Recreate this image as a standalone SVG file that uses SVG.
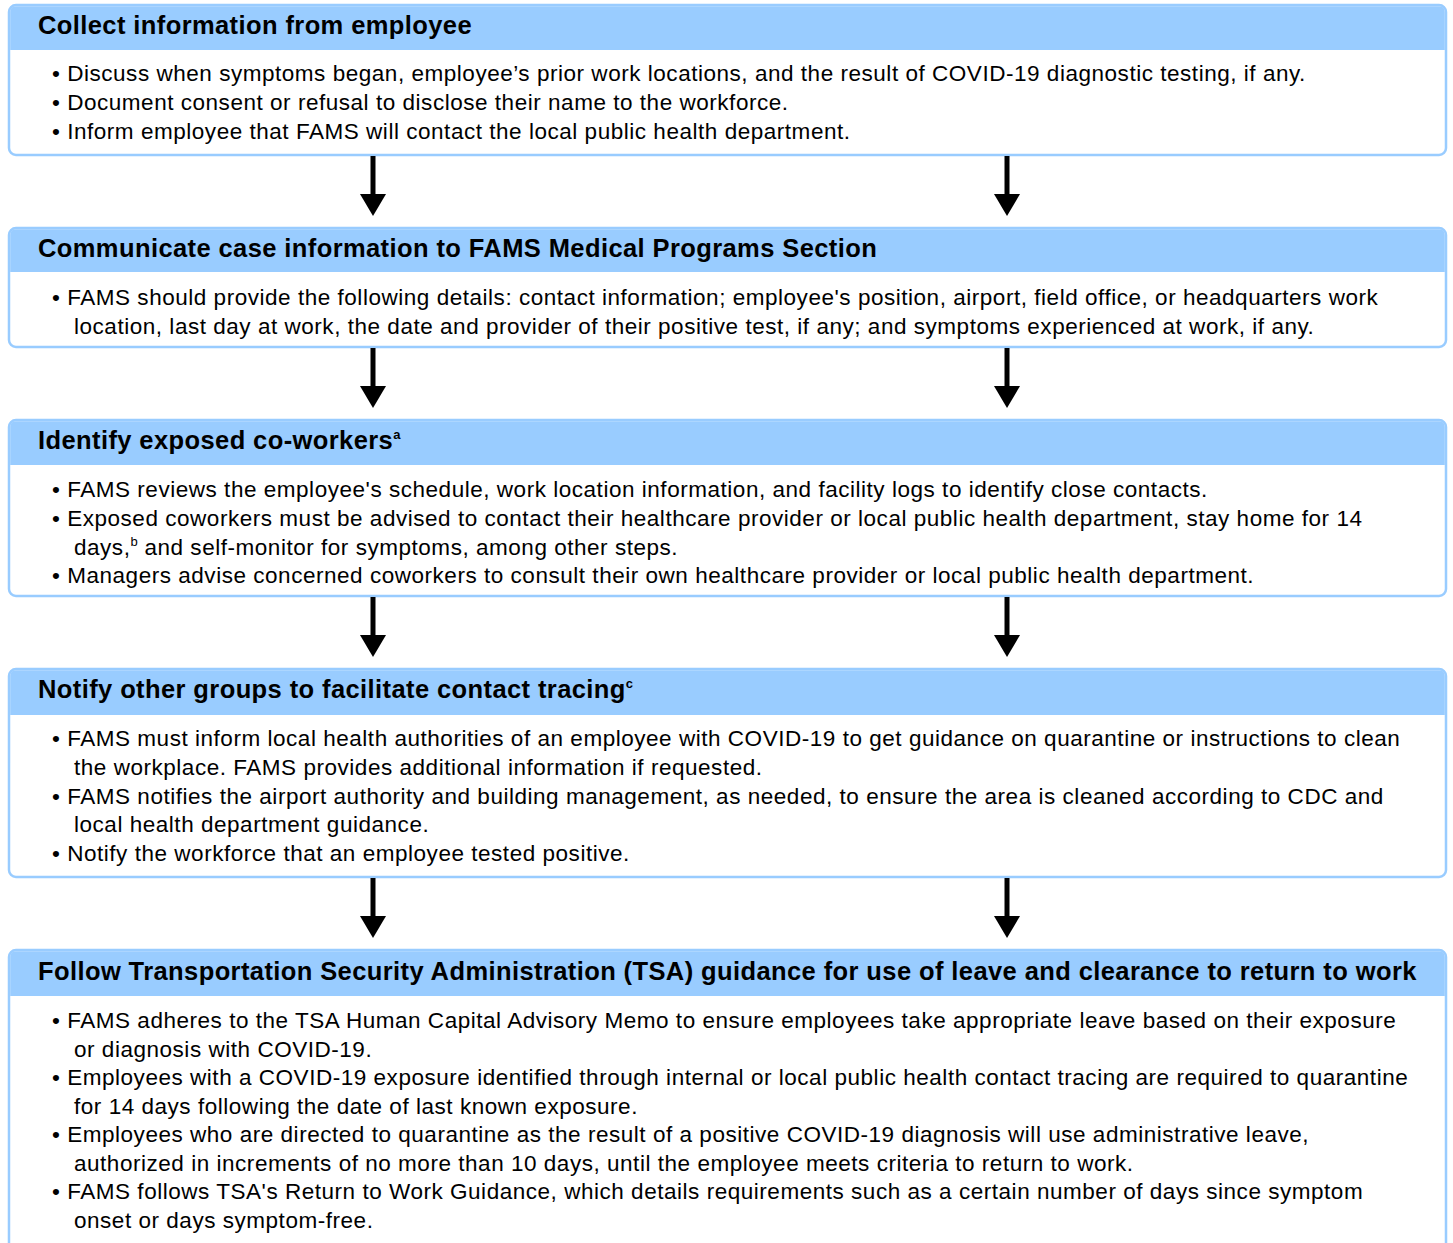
<svg xmlns="http://www.w3.org/2000/svg" width="1453" height="1243" viewBox="0 0 1453 1243">
<style>
.box{fill:#fff;stroke:#99ccff;stroke-width:2.5}
.hdr{fill:#99ccff}
.h{font-family:"Liberation Sans",Arial,sans-serif;font-weight:bold;font-size:25.5px;letter-spacing:0.4px;fill:#000}
.t{font-family:"Liberation Sans",Arial,sans-serif;font-size:22.5px;letter-spacing:0.53px;fill:#000}
.sup{font-size:13px;letter-spacing:0}
.arr{stroke:#000;stroke-width:5;fill:none}
</style>
<defs>
<marker id="ah" viewBox="0 -13 22 26" markerWidth="22" markerHeight="26" refX="0" refY="0" orient="auto" markerUnits="userSpaceOnUse">
<path d="M0,-13 L22,0 L0,13 Z" fill="#000"/>
</marker>
</defs>
<g id="node1">
<rect class="box" x="9" y="5" width="1437" height="150" rx="7"/>
<path class="hdr" d="M16,6.2 H1439 Q1444.8,6.2 1444.8,12 V50 H10.2 V12 Q10.2,6.2 16,6.2 Z"/>
<text class="h" x="38" y="34">Collect information from employee</text>
<text class="t" x="52" y="81">• Discuss when symptoms began, employee’s prior work locations, and the result of COVID-19 diagnostic testing, if any.</text>
<text class="t" x="52" y="110">• Document consent or refusal to disclose their name to the workforce.</text>
<text class="t" x="52" y="139">• Inform employee that FAMS will contact the local public health department.</text>
</g>
<g id="node2">
<rect class="box" x="9" y="228" width="1437" height="119" rx="7"/>
<path class="hdr" d="M16,229.2 H1439 Q1444.8,229.2 1444.8,235 V272 H10.2 V235 Q10.2,229.2 16,229.2 Z"/>
<text class="h" x="38" y="257">Communicate case information to FAMS Medical Programs Section</text>
<text class="t" x="52" y="305">• FAMS should provide the following details: contact information; employee's position, airport, field office, or headquarters work</text>
<text class="t" x="74" y="334">location, last day at work, the date and provider of their positive test, if any; and symptoms experienced at work, if any.</text>
</g>
<g id="node3">
<rect class="box" x="9" y="420" width="1437" height="176" rx="7"/>
<path class="hdr" d="M16,421.2 H1439 Q1444.8,421.2 1444.8,427 V465 H10.2 V427 Q10.2,421.2 16,421.2 Z"/>
<text class="h" x="38" y="449">Identify exposed co-workers<tspan class="sup" dy="-10">a</tspan></text>
<text class="t" x="52" y="497">• FAMS reviews the employee's schedule, work location information, and facility logs to identify close contacts.</text>
<text class="t" x="52" y="526">• Exposed coworkers must be advised to contact their healthcare provider or local public health department, stay home for 14</text>
<text class="t" x="74" y="555">days,<tspan class="sup" dy="-9">b</tspan><tspan dy="9"> and self-monitor for symptoms, among other steps.</tspan></text>
<text class="t" x="52" y="583">• Managers advise concerned coworkers to consult their own healthcare provider or local public health department.</text>
</g>
<g id="node4">
<rect class="box" x="9" y="669" width="1437" height="208" rx="7"/>
<path class="hdr" d="M16,670.2 H1439 Q1444.8,670.2 1444.8,676 V715 H10.2 V676 Q10.2,670.2 16,670.2 Z"/>
<text class="h" x="38" y="698">Notify other groups to facilitate contact tracing<tspan class="sup" dy="-10">c</tspan></text>
<text class="t" x="52" y="746">• FAMS must inform local health authorities of an employee with COVID-19 to get guidance on quarantine or instructions to clean</text>
<text class="t" x="74" y="775">the workplace. FAMS provides additional information if requested.</text>
<text class="t" x="52" y="804">• FAMS notifies the airport authority and building management, as needed, to ensure the area is cleaned according to CDC and</text>
<text class="t" x="74" y="832">local health department guidance.</text>
<text class="t" x="52" y="861">• Notify the workforce that an employee tested positive.</text>
</g>
<g id="node5">
<rect class="box" x="9" y="950" width="1437" height="310" rx="7"/>
<path class="hdr" d="M16,951.2 H1439 Q1444.8,951.2 1444.8,957 V996 H10.2 V957 Q10.2,951.2 16,951.2 Z"/>
<text class="h" x="38" y="980">Follow Transportation Security Administration (TSA) guidance for use of leave and clearance to return to work</text>
<text class="t" x="52" y="1028">• FAMS adheres to the TSA Human Capital Advisory Memo to ensure employees take appropriate leave based on their exposure</text>
<text class="t" x="74" y="1057">or diagnosis with COVID-19.</text>
<text class="t" x="52" y="1085">• Employees with a COVID-19 exposure identified through internal or local public health contact tracing are required to quarantine</text>
<text class="t" x="74" y="1114">for 14 days following the date of last known exposure.</text>
<text class="t" x="52" y="1142">• Employees who are directed to quarantine as the result of a positive COVID-19 diagnosis will use administrative leave,</text>
<text class="t" x="74" y="1171">authorized in increments of no more than 10 days, until the employee meets criteria to return to work.</text>
<text class="t" x="52" y="1199">• FAMS follows TSA's Return to Work Guidance, which details requirements such as a certain number of days since symptom</text>
<text class="t" x="74" y="1228">onset or days symptom-free.</text>
</g>
<g id="connectors">
<line class="arr" x1="373" y1="156" x2="373" y2="194" marker-end="url(#ah)"/>
<line class="arr" x1="1007" y1="156" x2="1007" y2="194" marker-end="url(#ah)"/>
<line class="arr" x1="373" y1="348" x2="373" y2="386" marker-end="url(#ah)"/>
<line class="arr" x1="1007" y1="348" x2="1007" y2="386" marker-end="url(#ah)"/>
<line class="arr" x1="373" y1="597" x2="373" y2="635" marker-end="url(#ah)"/>
<line class="arr" x1="1007" y1="597" x2="1007" y2="635" marker-end="url(#ah)"/>
<line class="arr" x1="373" y1="878" x2="373" y2="916" marker-end="url(#ah)"/>
<line class="arr" x1="1007" y1="878" x2="1007" y2="916" marker-end="url(#ah)"/>
</g>
</svg>
